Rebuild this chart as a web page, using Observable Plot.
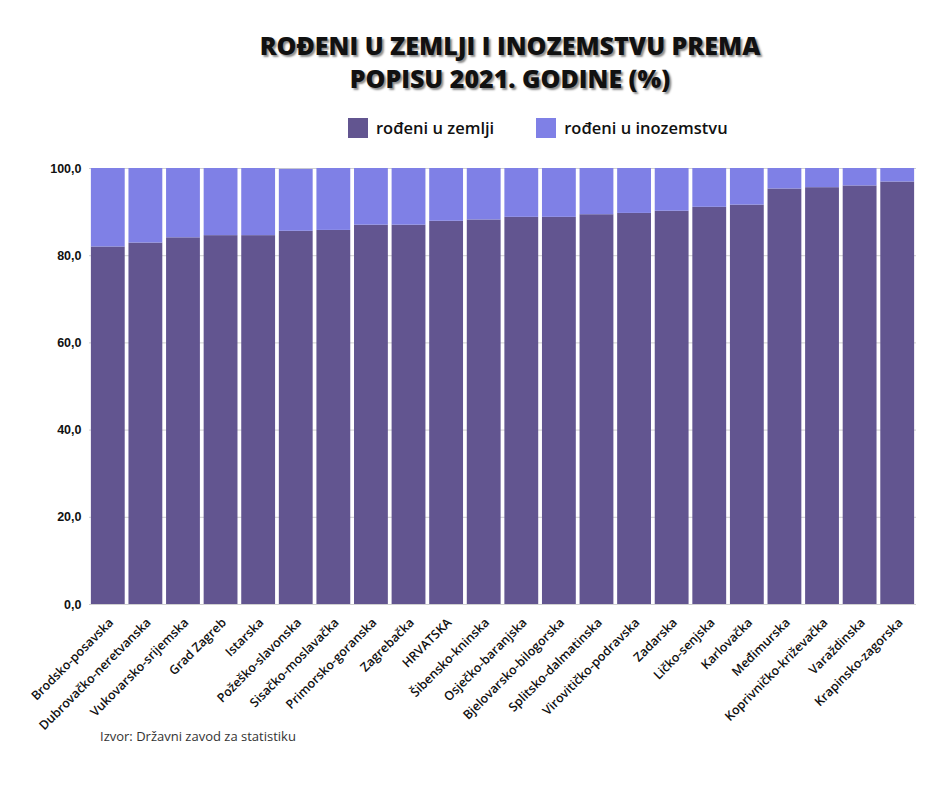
<!DOCTYPE html>
<html>
<head>
<meta charset="utf-8">
<script src="https://cdn.jsdelivr.net/npm/d3@7"></script>
<script src="https://cdn.jsdelivr.net/npm/@observablehq/plot@0.6"></script>
<style>
  html, body { margin: 0; padding: 0; background: #fff; }
  body { width: 940px; height: 788px; position: relative; font-family: "Open Sans", sans-serif; }
  #title { position: absolute; left: 0; width: 1020px; top: 29px; text-align: center;
    font-family: "Open Sans", sans-serif; font-weight: 800; font-size: 25px; line-height: 33px;
    color: #111; text-shadow: 2px 2px 2px rgba(0,0,0,0.45); }
  #legend { position: absolute; top: 116px; left: 348px; display: flex; align-items: center;
    font-family: "Open Sans", sans-serif; font-weight: 600; font-size: 16.5px; color: #111; }
  .sw { width: 20px; height: 20px; display: inline-block; margin-right: 8px; }
  .item { display: flex; align-items: center; }
  #chart { position: absolute; left: 0; top: 155px; }
  #caption { position: absolute; left: 100px; top: 727px; font-family: "Open Sans", sans-serif;
    font-size: 13px; color: #333; }
</style>
</head>
<body>
<div id="title">ROĐENI U ZEMLJI I INOZEMSTVU PREMA<br>POPISU 2021. GODINE (%)</div>
<div id="legend"></div>
<div id="chart"></div>
<div id="caption">Izvor: Državni zavod za statistiku</div>
<script>
const regions = ["Brodsko-posavska","Dubrovačko-neretvanska","Vukovarsko-srijemska","Grad Zagreb","Istarska","Požeško-slavonska","Sisačko-moslavačka","Primorsko-goranska","Zagrebačka","HRVATSKA","Šibensko-kninska","Osječko-baranjska","Bjelovarsko-bilogorska","Splitsko-dalmatinska","Virovitičko-podravska","Zadarska","Ličko-senjska","Karlovačka","Međimurska","Koprivničko-križevačka","Varaždinska","Krapinsko-zagorska"];
const bornHome = [82.0,82.9,84.1,84.6,84.6,85.6,85.8,87.0,87.0,87.9,88.2,88.8,88.8,89.4,89.7,90.2,91.1,91.6,95.3,95.6,96.0,96.9];
const bornAbroad = [18.0,17.1,15.9,15.4,15.4,14.2,14.2,13.0,13.0,12.1,11.8,11.2,11.2,10.6,10.3,9.8,8.9,8.4,4.7,4.4,4.0,3.1];
const seriesNames = ["rođeni u zemlji","rođeni u inozemstvu"];
const seriesColors = ["#625590","#7f80e6"];
const yTicks = [0,20,40,60,80,100];

const rows = [];
regions.forEach((r,i) => rows.push({region:r, series:seriesNames[0], value:bornHome[i]}));
regions.forEach((r,i) => rows.push({region:r, series:seriesNames[1], value:bornAbroad[i]}));

const legend = document.getElementById("legend");
seriesNames.forEach((s,i) => {
  const it = document.createElement("div");
  it.className = "item";
  if (i > 0) it.style.marginLeft = "42px";
  it.innerHTML = `<span class="sw" style="background:${seriesColors[i]}"></span>${s}`;
  legend.appendChild(it);
});

const fmt = d => d3.format(".1f")(d).replace(".", ",");

const plot = Plot.plot({
  width: 940,
  height: 585,
  marginLeft: 89,
  marginRight: 24,
  marginTop: 13,
  marginBottom: 136,
  style: {fontFamily: "Open Sans, sans-serif", background: "transparent"},
  x: {domain: regions, paddingInner: 0.1, paddingOuter: 0.05, round: false, label: null},
  y: {domain: [0,100], label: null},
  color: {domain: seriesNames, range: seriesColors},
  marks: [
    Plot.gridY(yTicks, {stroke: "#d0d0d0", strokeOpacity: 1}),
    Plot.barY(rows, Plot.stackY({x: "region", y: "value", fill: "series", order: seriesNames})),
    Plot.axisY(yTicks, {tickSize: 0, tickPadding: 8, tickFormat: fmt,
      fontFamily: "Liberation Sans, Arial, sans-serif", fontWeight: "bold", fontSize: 12.5, fill: "#111"}),
    Plot.axisX({tickSize: 0, tickRotate: -45, tickPadding: 16, dx: 3, fontSize: 12.5, fontWeight: 600, fill: "#111"})
  ]
});
document.getElementById("chart").appendChild(plot);
</script>
</body>
</html>
